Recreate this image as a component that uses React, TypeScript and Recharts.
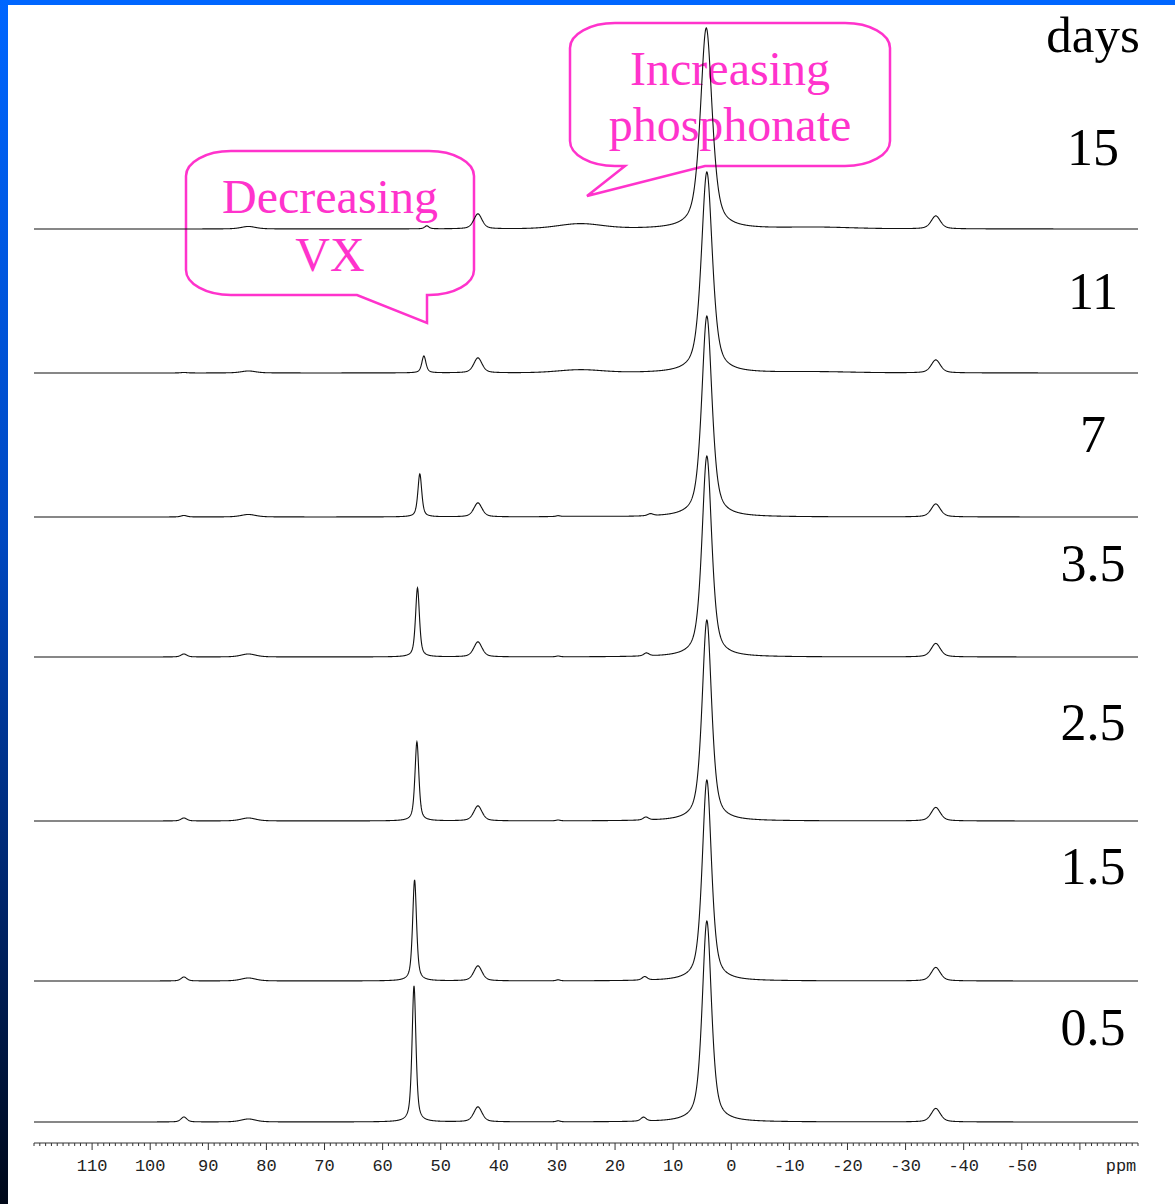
import React from "react";
import { LineChart, Line, XAxis, YAxis } from "recharts";

// ---- data ----
const days = ["0.5", "1.5", "2.5", "3.5", "7", "11", "15"];
// vertical stacking offset of each trace (intensity units)
const stackOffset = [21, 162, 322, 486, 626, 770, 914];

// main resonance near 4 ppm
const mainCentre = [4.2, 4.2, 4.2, 4.2, 4.2, 4.2, 4.3];
const mainHeight = [201, 201, 201, 201, 201, 201, 201];
const mainWidth = [1.9, 1.9, 1.95, 2.0, 2.1, 2.25, 2.4];
// VX resonance (decreasing)
const vxCentre = [54.6, 54.5, 54.1, 54.0, 53.6, 52.9, 52.4];
const vxHeight = [136, 101, 79, 69, 43, 17, 3];
const vxWidth = [0.8, 0.8, 0.8, 0.8, 0.8, 0.85, 0.9];
// minor resonances
const p44Height = [15, 15, 15, 15, 14, 15, 15];
const p35Height = [13.5, 13.5, 13.5, 13.5, 13, 13, 13];
const p94Height = [5, 4, 3, 3, 1.5, 0.5, 0];
const p83Height = [3, 3, 3, 3, 2.5, 2, 2.5];
const p15Centre = [15.1, 14.9, 14.7, 14.6, 13.9, 14, 14];
const p15Height = [4, 3.5, 3, 3, 2, 0, 0];
const p30Height = [1, 1, 0.8, 0.8, 0.8, 0, 0];
const hump26Height = [0, 0, 0, 0, 0.5, 3, 5];
const humpM15Height = [0, 0, 0, 0, 0, 1, 1.5];

const axisTicks: number[] = [];
for (let v = -70; v <= 120; v++) axisTicks.push(v);

// ---- build spectrum table from the peak lists ----
const pv = (x: number, c: number, h: number, w: number, eta = 0.6) => {
  if (h === 0) return 0;
  const t = (x - c) / w;
  const L = 1 / (1 + 4 * t * t);
  const G = Math.exp(-4 * Math.LN2 * t * t);
  return h * (eta * L + (1 - eta) * G);
};

const spectrum = (x: number, i: number) =>
  stackOffset[i] +
  pv(x, mainCentre[i], mainHeight[i], mainWidth[i]) +
  pv(x, vxCentre[i], vxHeight[i], vxWidth[i]) +
  pv(x, 43.6, p44Height[i], 1.7, 0.5) +
  pv(x, -35.2, p35Height[i], 1.9, 0.5) +
  pv(x, 94.2, p94Height[i], 1.2, 0.5) +
  pv(x, 83.1, p83Height[i], 3, 0.5) +
  pv(x, p15Centre[i], p15Height[i], 1.1, 0.5) +
  pv(x, 29.8, p30Height[i], 0.8, 0.5) +
  pv(x, 26, hump26Height[i], 9, 0.2) +
  pv(x, -15, humpM15Height[i], 14, 0.2);

const data: Record<string, number>[] = [];
for (let k = 0; k <= 3800; k++) {
  const ppm = 120 - k * 0.05;
  const row: Record<string, number> = { ppm };
  days.forEach((_, i) => {
    row["d" + i] = spectrum(ppm, i);
  });
  data.push(row);
}

const PINK = "#ff33cc";

const AxisTick = (props: any) => {
  const { x, y, payload } = props;
  const v = payload.value as number;
  const major = v % 10 === 0 && v > -70 && v < 120;
  return (
    <g>
      <line x1={x} x2={x} y1={y} y2={y + (major ? 7 : 3)} stroke="#333" strokeWidth={1} />
      {major && v >= -50 && v <= 110 && (
        <text x={x} y={y + 28} textAnchor="middle" fontFamily="Liberation Mono" fontSize={17} fill="#222">
          {v}
        </text>
      )}
    </g>
  );
};

const bubble = (L: number, T: number, R: number, B: number, rx: number, ry: number, bottomSeg: string) =>
  `M ${L + rx} ${T} H ${R - rx} A ${rx} ${ry} 0 0 1 ${R} ${T + ry} V ${B - ry} A ${rx} ${ry} 0 0 1 ${R - rx} ${B} ${bottomSeg} H ${L + rx} A ${rx} ${ry} 0 0 1 ${L} ${B - ry} V ${T + ry} A ${rx} ${ry} 0 0 1 ${L + rx} ${T} Z`;

const dayLabelBaselines = [1045, 884, 740, 581, 452, 309, 165];

export default function App() {
  return (
    <div style={{ position: "absolute", left: 0, top: 0, width: 1175, height: 1204, background: "#fff", overflow: "hidden" }}>
      <svg width={1175} height={1204} style={{ position: "absolute", left: 0, top: 0 }}>
        <path
          d={bubble(186, 151, 474, 295, 45, 25, "H 427 V 323 L 357 295")}
          fill="none"
          stroke={PINK}
          strokeWidth={2.5}
        />
        <text x={330} y={213} textAnchor="middle" fontFamily="Liberation Serif" fontSize={48} fill={PINK}>
          Decreasing
        </text>
        <text x={330} y={271} textAnchor="middle" fontFamily="Liberation Serif" fontSize={48} fill={PINK}>
          VX
        </text>
        <path
          d={bubble(570, 23, 890, 166, 45, 25, "H 705 L 587 196 L 625 166")}
          fill="none"
          stroke={PINK}
          strokeWidth={2.5}
        />
        <text x={730} y={85} textAnchor="middle" fontFamily="Liberation Serif" fontSize={48} fill={PINK}>
          Increasing
        </text>
        <text x={730} y={141} textAnchor="middle" fontFamily="Liberation Serif" fontSize={48} fill={PINK}>
          phosphonate
        </text>
        <text x={1093} y={52} textAnchor="middle" fontFamily="Liberation Serif" fontSize={51} fill="#000">
          days
        </text>
        {days.map((d, i) => (
          <text key={d} x={1093} y={dayLabelBaselines[i]} textAnchor="middle" fontFamily="Liberation Serif" fontSize={52} fill="#000">
            {d}
          </text>
        ))}
        <text x={1121} y={1171} textAnchor="middle" fontFamily="Liberation Mono" fontSize={17} fill="#222">
          ppm
        </text>
      </svg>
      <div style={{ position: "absolute", left: 0, top: 0 }}>
        <LineChart width={1175} height={1204} data={data} margin={{ top: 8, right: 37, bottom: 11, left: 34 }}>
          <XAxis
            dataKey="ppm"
            type="number"
            domain={[-70, 120]}
            reversed
            allowDataOverflow
            ticks={axisTicks}
            interval={0}
            tickLine={false}
            tickSize={0}
            tickMargin={0}
            height={50}
            axisLine={{ stroke: "#333", strokeWidth: 1 }}
            tick={<AxisTick />}
          />
          <YAxis hide type="number" domain={[0, 1135]} allowDataOverflow />
          {days.map((d, i) => (
            <Line
              key={d}
              dataKey={"d" + i}
              type="linear"
              stroke="#111"
              strokeWidth={1.1}
              dot={false}
              activeDot={false}
              isAnimationActive={false}
            />
          ))}
        </LineChart>
      </div>
      <div style={{ position: "absolute", left: 0, top: 0, width: 1175, height: 5, background: "#0066ff" }} />
      <div
        style={{
          position: "absolute",
          left: 0,
          top: 0,
          width: 8,
          height: 1204,
          background: "linear-gradient(to bottom, #0066ff 0%, #0048c0 45%, #00256a 75%, #000818 100%)",
        }}
      />
    </div>
  );
}
